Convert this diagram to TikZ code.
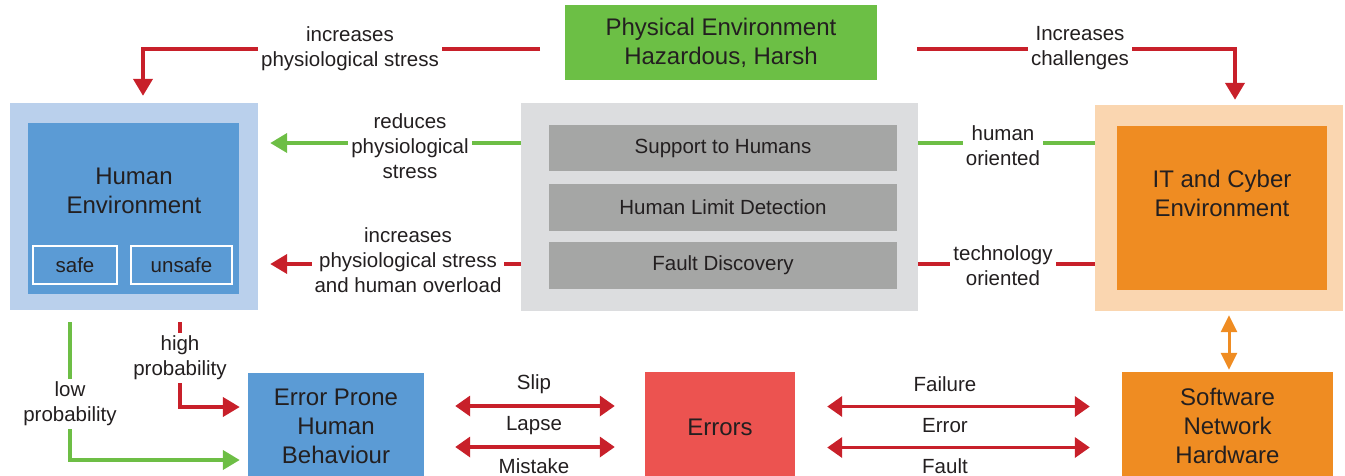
\documentclass[tikz,border=0pt]{standalone}
\usepackage{fontspec}
\setmainfont{Liberation Sans}
\usetikzlibrary{arrows.meta}

\definecolor{physgreen}{HTML}{6CBF45}
\definecolor{arrgreen}{HTML}{6DBE45}
\definecolor{arrred}{HTML}{C8202A}
\definecolor{arrorange}{HTML}{EF8C22}
\definecolor{humlight}{HTML}{BAD0EC}
\definecolor{humblue}{HTML}{5B9BD5}
\definecolor{midlight}{HTML}{DCDDDF}
\definecolor{midgray}{HTML}{A5A6A5}
\definecolor{itlight}{HTML}{FAD6B0}
\definecolor{itorange}{HTML}{EF8C22}
\definecolor{errred}{HTML}{EC5350}
\definecolor{txtgray}{HTML}{231F20}

\tikzset{
  panel/.style={inner sep=0pt, align=center, text=txtgray},
  bigtext/.style={font=\fontsize{24}{29}\selectfont},
  smalltext/.style={font=\fontsize{20.5}{25}\selectfont},
  lbl/.style={smalltext, fill=white, inner sep=3pt, align=center, text=txtgray},
  tag/.style={panel, smalltext, draw=white, line width=2pt},
  redarr/.style={draw=arrred, line width=4pt, -{Triangle[length=17pt,width=19pt]}},
  greenarr/.style={draw=arrgreen, line width=4pt, -{Triangle[length=17pt,width=19pt]}},
  redline/.style={draw=arrred, line width=4pt},
  greenline/.style={draw=arrgreen, line width=4pt},
  twoway/.style={draw=arrred, line width=3.5pt, {Triangle[length=15pt,width=20pt]}-{Triangle[length=15pt,width=20pt]}},
  orangeway/.style={draw=arrorange, line width=3pt, {Triangle[length=17pt,width=16pt]}-{Triangle[length=17pt,width=16pt]}}
}

\begin{document}
\begin{tikzpicture}[x=1pt, y=-1pt]
  \useasboundingbox (0,0) rectangle (1345,475);
  \clip (0,0) rectangle (1345,475);

  % boxes
  \node[panel, bigtext, fill=physgreen, minimum width=312, minimum height=75] (phys) at (721,42.5) {Physical Environment\\Hazardous, Harsh};

  \node[panel, fill=humlight, minimum width=248, minimum height=207] (humout) at (134,206.5) {};
  \node[panel, fill=humblue, minimum width=211, minimum height=171] (humin) at (133.5,208.5) {};
  \node[panel, bigtext] (humtxt) at (134,191) {Human\\Environment};
  \node[tag, minimum width=84, minimum height=38] (safe) at (75,265) {safe};
  \node[tag, minimum width=101, minimum height=38] (unsafe) at (181.5,265) {unsafe};

  \node[panel, fill=midlight, minimum width=397, minimum height=208] (midout) at (719.5,207) {};
  \node[panel, smalltext, fill=midgray, minimum width=348, minimum height=46] (support) at (723,148) {Support to Humans};
  \node[panel, smalltext, fill=midgray, minimum width=348, minimum height=47] (limit) at (723,207.5) {Human Limit Detection};
  \node[panel, smalltext, fill=midgray, minimum width=348, minimum height=47] (fault) at (723,265.5) {Fault Discovery};

  \node[panel, fill=itlight, minimum width=248, minimum height=206] (itout) at (1219,208) {};
  \node[panel, fill=itorange, minimum width=210, minimum height=164] (itin) at (1222,208) {};
  \node[panel, bigtext] (ittxt) at (1222,193) {IT and Cyber\\Environment};

  \node[panel, bigtext, fill=humblue, minimum width=176, minimum height=107] (ephb) at (336,426.5) {Error Prone\\Human\\Behaviour};
  \node[panel, bigtext, fill=errred, minimum width=150, minimum height=110] (errors) at (720,427) {Errors};
  \node[panel, bigtext, fill=itorange, minimum width=211, minimum height=108] (snh) at (1227.5,426) {Software\\Network\\Hardware};

  % top connectors
  \coordinate (physL) at (540,49);
  \coordinate (physR) at (917,49);
  \draw[redarr, shorten >=7] (physL) -| ([xshift=9]humout.north);
  \draw[redarr, shorten >=5] (physR) -| ([xshift=16]itout.north);
  \node[lbl] (incstress) at (350,49) {increases\\physiological stress};
  \node[lbl] (incchall) at (1080,48) {Increases\\challenges};

  % middle connectors
  \draw[greenarr, shorten >=12] ([yshift=64]midout.west) -- ([yshift=64]midout.west -| humout.east);
  \draw[redarr, shorten >=12] ([yshift=-57]midout.west) -- ([yshift=-57]midout.west -| humout.east);
  \draw[greenline] ([yshift=64]midout.east) -- ([yshift=64]midout.east -| itout.west);
  \draw[redline] ([yshift=-57]midout.east) -- ([yshift=-57]midout.east -| itout.west);
  \node[lbl] (reduces) at (410,146) {reduces\\physiological\\stress};
  \node[lbl] (overload) at (408,260) {increases\\physiological stress\\and human overload};
  \node[lbl] (humor) at (1003,146) {human\\oriented};
  \node[lbl] (techor) at (1003,266) {technology\\oriented};

  % probabilities
  \draw[greenarr, shorten >=8] ([xshift=-64,yshift=-12]humout.south) |- ([yshift=-33.5]ephb.west);
  \draw[redarr, shorten >=8] ([xshift=46,yshift=-12]humout.south) |- ([yshift=19.5]ephb.west);
  \node[lbl] (lowp) at (70,404) {low\\probability};
  \node[lbl] (highp) at (180,358) {high\\probability};

  % bottom row
  \draw[twoway, shorten <=31, shorten >=30] ([yshift=20.5]ephb.east) -- ([yshift=20.5]ephb.east -| errors.west);
  \draw[twoway, shorten <=31, shorten >=30] ([yshift=-20.5]ephb.east) -- ([yshift=-20.5]ephb.east -| errors.west);
  \draw[twoway, shorten <=32, shorten >=32] ([yshift=20.5]errors.east) -- ([yshift=20.5]errors.east -| snh.west);
  \draw[twoway, shorten <=32, shorten >=32] ([yshift=-20.5]errors.east) -- ([yshift=-20.5]errors.east -| snh.west);
  \node[lbl, fill=none] (slip) at (534,384) {Slip};
  \node[lbl, fill=none] (lapse) at (534,426) {Lapse};
  \node[lbl, fill=none] (mistake) at (534,466) {Mistake};
  \node[lbl, fill=none] (failure) at (945,384) {Failure};
  \node[lbl, fill=none] (error) at (945,426) {Error};
  \node[lbl, fill=none] (faultlbl) at (945,466) {Fault};

  \draw[orangeway, shorten <=4, shorten >=2] ([xshift=10]itout.south) -- ([xshift=10]itout.south |- snh.north);
\end{tikzpicture}
\end{document}
